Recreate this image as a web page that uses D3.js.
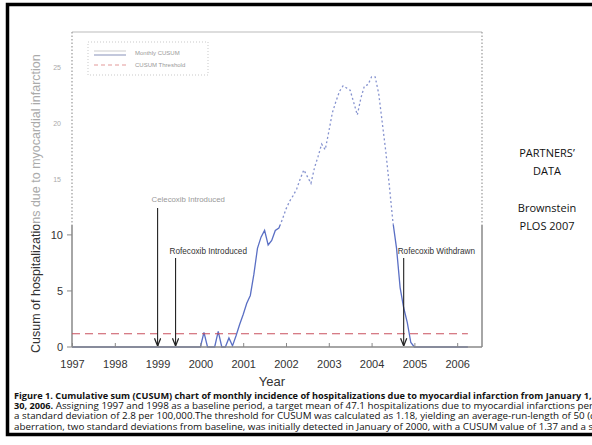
<!DOCTYPE html>
<html>
<head>
<meta charset="utf-8">
<script src="https://cdn.jsdelivr.net/npm/d3@7"></script>
<style>
  html, body { margin: 0; padding: 0; background: #fff; }
  svg { display: block; }
</style>
</head>
<body>
<div id="chart"></div>
<script>
// monthly CUSUM, Jan 1997 .. Apr 2006
var startYear = 1997;
var cusum = [
  0, 0, 0, 0, 0, 0, 0, 0, 0, 0, 0, 0,            // 1997
  0, 0, 0, 0, 0, 0, 0, 0, 0, 0, 0, 0,            // 1998
  0, 0, 0, 0, 0, 0, 0, 0, 0, 0, 0, 0,            // 1999
  0, 1.3, 0, 0, 0, 1.4, 0, 0, 0.8, 0.1, 1.0, 2.0, // 2000
  2.9, 3.9, 4.6, 6.5, 8.8, 9.8, 10.4, 9.1, 9.5, 10.4, 10.6, 11.4, // 2001
  12.3, 13.0, 13.5, 14.1, 15.0, 15.8, 15.2, 14.6, 16.0, 17.0, 18.1, 17.6, // 2002
  19.2, 20.9, 21.9, 22.8, 23.3, 23.1, 22.9, 21.8, 20.7, 22.2, 23.3, 23.4, // 2003
  24.1, 24.1, 22.6, 20.0, 17.4, 14.3, 11.1, 8.8, 5.3, 3.5, 2.2, 0.4,     // 2004
  0, 0, 0, 0, 0, 0, 0, 0, 0, 0, 0, 0,            // 2005
  0, 0, 0, 0                                     // 2006
];
var threshold = 1.18;
var yearTicks = [1997, 1998, 1999, 2000, 2001, 2002, 2003, 2004, 2005, 2006];
var yTicks = [0, 5, 10, 15, 20, 25];
var eventNames = ['Celecoxib Introduced', 'Rofecoxib Introduced', 'Rofecoxib Withdrawn'];
var eventYears = [1999.0, 1999.42, 2004.75];
var sideNotes = ['PARTNERS\u2019', 'DATA', '', 'Brownstein', 'PLOS 2007'];
var captionBold = [
  'Figure 1. Cumulative sum (CUSUM) chart of monthly incidence of hospitalizations due to myocardial infarction from January 1, 1997 to June',
  '30, 2006.',
  '',
  ''
];
var captionRest = [
  '',
  ' Assigning 1997 and 1998 as a baseline period, a target mean of 47.1 hospitalizations due to myocardial infarctions per 100,000 and',
  'a standard deviation of 2.8 per 100,000.The threshold for CUSUM was calculated as 1.18, yielding an average-run-length of 50 (dashed line). An',
  'aberration, two standard deviations from baseline, was initially detected in January of 2000, with a CUSUM value of 1.37 and a second'
];

var W = 592, H = 445;
var svg = d3.select('#chart').append('svg')
  .attr('width', W)
  .attr('height', H);

var x = d3.scaleLinear().domain([1997, 2006.58]).range([72, 482]);
var y = d3.scaleLinear().domain([0, 28.1]).range([347, 32]);
var cut = 225; // the picture is crisp below this line, washed out above

var defs = svg.append('defs');
defs.append('clipPath').attr('id', 'low')
  .append('rect').attr('x', 0).attr('y', cut).attr('width', W).attr('height', H - cut);
defs.append('clipPath').attr('id', 'high')
  .append('rect').attr('x', 0).attr('y', 0).attr('width', W).attr('height', cut);
defs.append('clipPath').attr('id', 'page')
  .append('rect').attr('x', 9).attr('y', 6).attr('width', W).attr('height', 426);
defs.append('marker')
  .attr('id', 'arr')
  .attr('viewBox', '0 0 10 10')
  .attr('refX', 10).attr('refY', 5)
  .attr('markerWidth', 7).attr('markerHeight', 7)
  .attr('orient', 'auto')
  .append('path')
  .attr('d', 'M0,1 L10,5 L0,9')
  .attr('fill', 'none')
  .attr('stroke', '#222')
  .attr('stroke-width', 1.6);

var pts = cusum.map(function(v, i) { return [startYear + i / 12, v]; });
var line = d3.line()
  .x(function(d) { return x(d[0]); })
  .y(function(d) { return y(d[1]); });

// ---------- washed-out upper part ----------
var hi = svg.append('g').attr('clip-path', 'url(#high)');

hi.append('line')
  .attr('x1', x(1997)).attr('x2', 482)
  .attr('y1', 32).attr('y2', 32)
  .attr('stroke', '#bbb').attr('stroke-width', 1.2);
hi.append('line')
  .attr('x1', x(1997)).attr('x2', x(1997))
  .attr('y1', 32).attr('y2', cut)
  .attr('stroke', '#999').attr('stroke-width', 1.2)
  .attr('stroke-dasharray', '1.5,2');
hi.append('line')
  .attr('x1', 482).attr('x2', 482)
  .attr('y1', 32).attr('y2', cut)
  .attr('stroke', '#999').attr('stroke-width', 1.2)
  .attr('stroke-dasharray', '1.5,2');

hi.selectAll('.hitick').data(yTicks.filter(function(d) { return d > 10; }))
  .enter().append('text')
  .attr('x', 61).attr('y', function(d) { return y(d) + 3; })
  .attr('text-anchor', 'end')
  .attr('font-family', 'Liberation Sans, Arial, sans-serif')
  .attr('font-size', 7)
  .attr('fill', '#aaa')
  .text(function(d) { return d; });

hi.append('path')
  .datum(pts)
  .attr('d', line)
  .attr('fill', 'none')
  .attr('stroke', '#8592cf')
  .attr('stroke-width', 1.3)
  .attr('stroke-dasharray', '2,2.5');

// legend (faded)
var lg = hi.append('g').attr('transform', 'translate(88,42)');
lg.append('rect')
  .attr('width', 120).attr('height', 33)
  .attr('fill', 'none')
  .attr('stroke', '#bbb').attr('stroke-width', 0.8)
  .attr('stroke-dasharray', '1,2');
lg.append('line').attr('x1', 6).attr('x2', 38).attr('y1', 9).attr('y2', 9)
  .attr('stroke', '#ccc').attr('stroke-width', 1);
lg.append('line').attr('x1', 6).attr('x2', 38).attr('y1', 13).attr('y2', 13)
  .attr('stroke', '#9aa3c4').attr('stroke-width', 1.2);
lg.append('line').attr('x1', 6).attr('x2', 38).attr('y1', 23).attr('y2', 23)
  .attr('stroke', '#e39a9a').attr('stroke-width', 1.2)
  .attr('stroke-dasharray', '4,3');
lg.append('text').attr('x', 47).attr('y', 13)
  .attr('font-family', 'Liberation Sans, Arial, sans-serif')
  .attr('font-size', 6).attr('fill', '#999')
  .text('Monthly CUSUM');
lg.append('text').attr('x', 47).attr('y', 25)
  .attr('font-family', 'Liberation Sans, Arial, sans-serif')
  .attr('font-size', 6).attr('fill', '#999')
  .text('CUSUM Threshold');

// ---------- crisp lower part ----------
var lo = svg.append('g').attr('clip-path', 'url(#low)');

lo.append('line')
  .attr('x1', x(1997)).attr('x2', x(1997))
  .attr('y1', 0).attr('y2', y(0))
  .attr('stroke', '#888').attr('stroke-width', 1.5);
lo.append('line')
  .attr('x1', 482).attr('x2', 482)
  .attr('y1', 0).attr('y2', y(0))
  .attr('stroke', '#888').attr('stroke-width', 1.5);

lo.append('path')
  .datum(pts)
  .attr('d', line)
  .attr('fill', 'none')
  .attr('stroke', '#5a6fc4')
  .attr('stroke-width', 1.3);

lo.selectAll('.lotick').data(yTicks.filter(function(d) { return d <= 10; }))
  .enter().append('g')
  .each(function(d) {
    var g = d3.select(this);
    g.append('line')
      .attr('x1', 67).attr('x2', 72)
      .attr('y1', y(d)).attr('y2', y(d))
      .attr('stroke', '#888').attr('stroke-width', 1);
    g.append('text')
      .attr('x', 63).attr('y', y(d) + 4)
      .attr('text-anchor', 'end')
      .attr('font-family', 'Liberation Sans, Arial, sans-serif')
      .attr('font-size', 11)
      .attr('fill', '#333')
      .text(d);
  });

// threshold
svg.append('line')
  .attr('x1', x(1997)).attr('x2', x(2006.25))
  .attr('y1', y(threshold)).attr('y2', y(threshold))
  .attr('stroke', '#c9525f')
  .attr('stroke-width', 1.2)
  .attr('stroke-dasharray', '8,5');

// x axis
var xAxis = d3.axisBottom(x)
  .tickValues(yearTicks)
  .tickFormat(d3.format('d'))
  .tickSize(-4)
  .tickPadding(13);
var gx = svg.append('g')
  .attr('transform', 'translate(0,' + y(0) + ')')
  .call(xAxis);
gx.select('.domain').attr('stroke', '#888').attr('stroke-width', 1.5)
  .attr('d', 'M72,0H482');
gx.selectAll('.tick line').attr('stroke', '#888');
gx.selectAll('.tick text')
  .attr('font-family', 'Liberation Sans, Arial, sans-serif')
  .attr('font-size', 11)
  .attr('fill', '#333');

svg.append('text')
  .attr('x', 272).attr('y', 386)
  .attr('text-anchor', 'middle')
  .attr('font-family', 'Liberation Sans, Arial, sans-serif')
  .attr('font-size', 13)
  .attr('fill', '#333')
  .text('Year');

// y label: crisp bottom half, faded top half
var yLab = 'Cusum of hospitalizations due to myocardial infarction';
[['low', '#333'], ['high', '#aaa']].forEach(function(c) {
  svg.append('g').attr('clip-path', 'url(#' + c[0] + ')')
    .append('text')
    .attr('transform', 'translate(40,353) rotate(-90)')
    .attr('font-family', 'Liberation Sans, Arial, sans-serif')
    .attr('font-size', 12.5)
    .attr('fill', c[1])
    .text(yLab);
});

// event arrows
var arrowTop = [208, 258, 258];
eventNames.forEach(function(name, i) {
  var ex = x(eventYears[i]);
  svg.append('line')
    .attr('x1', ex).attr('x2', ex)
    .attr('y1', arrowTop[i]).attr('y2', y(0) - 1)
    .attr('stroke', '#222')
    .attr('stroke-width', 1.1)
    .attr('marker-end', 'url(#arr)');
  var faded = i === 0;
  svg.append('text')
    .attr('x', ex - 6)
    .attr('y', arrowTop[i] - (faded ? 6 : 4))
    .attr('font-family', 'Liberation Sans, Arial, sans-serif')
    .attr('font-size', faded ? 7.8 : 8.2)
    .attr('fill', faded ? '#999' : '#333')
    .text(name);
});

// side note
svg.selectAll('.note').data(sideNotes).enter().append('text')
  .attr('x', 547)
  .attr('y', function(d, i) { return 157 + i * 18.3; })
  .attr('text-anchor', 'middle')
  .attr('font-family', 'Open Sans, Noto Sans, sans-serif')
  .attr('font-size', 11)
  .attr('fill', '#111')
  .text(function(d) { return d; });

// caption
var cap = svg.append('g').attr('clip-path', 'url(#page)');
captionRest.forEach(function(rest, i) {
  var t = cap.append('text')
    .attr('x', 14)
    .attr('y', 399 + i * 10.2)
    .attr('font-family', 'Open Sans, Noto Sans, sans-serif')
    .attr('fill', '#111');
  if (captionBold[i]) {
    t.append('tspan')
      .attr('font-size', 9.2)
      .attr('font-weight', 700)
      .text(captionBold[i]);
  }
  t.append('tspan')
    .attr('font-size', 9.8)
    .attr('font-weight', 400)
    .text(rest);
});

// slide frame
svg.append('rect')
  .attr('x', 7.5).attr('y', 4.5)
  .attr('width', 600).attr('height', 430)
  .attr('fill', 'none')
  .attr('stroke', '#000')
  .attr('stroke-width', 3.5);
</script>
</body>
</html>
